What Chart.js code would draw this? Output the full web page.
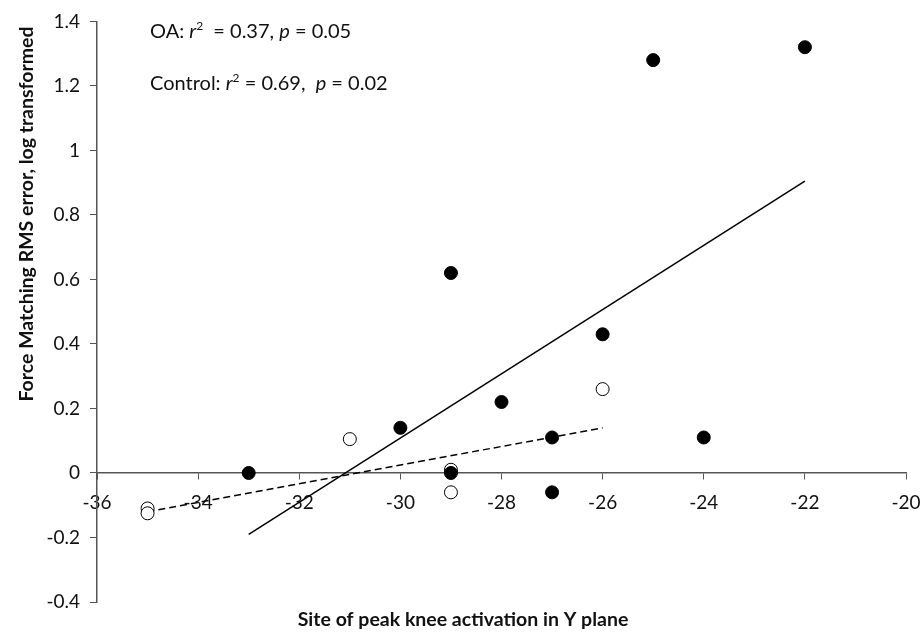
<!DOCTYPE html>
<html>
<head>
<meta charset="utf-8">
<script src="https://cdn.jsdelivr.net/npm/chart.js@4.4.1/dist/chart.umd.min.js"></script>
<style>
  html, body { margin: 0; padding: 0; background: #fff; }
  #wrap { width: 922px; height: 634px; }
</style>
</head>
<body>
<div id="wrap"><canvas id="chart"></canvas></div>
<script>
// OA group (filled markers)
const oaX = [-33, -30, -29, -29, -28, -27, -27, -26, -25, -24, -22];
const oaY = [0.0, 0.14, 0.62, 0.0, 0.22, 0.11, -0.06, 0.43, 1.28, 0.11, 1.32];
// Control group (open markers)
const controlX = [-35, -35, -31, -29, -29, -26];
const controlY = [-0.11, -0.125, 0.105, 0.01, -0.06, 0.26];
// regression line end points
const oaFitX = [-33, -22];
const oaFitY = [-0.19, 0.905];
const controlFitX = [-35, -26];
const controlFitY = [-0.12, 0.14];
// axes
const xTicks = [-36, -34, -32, -30, -28, -26, -24, -22, -20];
const yTicks = [-0.4, -0.2, 0, 0.2, 0.4, 0.6, 0.8, 1, 1.2, 1.4];
const xTitle = 'Site of peak knee activation in Y plane';
const yTitle = 'Force Matching RMS error, log transformed';
const notes = [
  [['OA: ', 'n'], ['r', 'i'], ['2', 's'], ['  = 0.37, ', 'n'], ['p', 'i'], [' = 0.05', 'n']],
  [['Control: ', 'n'], ['r', 'i'], ['2', 's'], [' = 0.69,  ', 'n'], ['p', 'i'], [' = 0.02', 'n']]
];

const toPoints = (xs, ys) => xs.map((x, i) => ({ x: x, y: ys[i] }));
const FONT = 'Lato, "Open Sans", sans-serif';
const axisColor = '#555';

// titles and the r/p notes drawn on the canvas
const textPlugin = {
  id: 'texts',
  afterDraw(chart) {
    const ctx = chart.ctx;
    ctx.save();
    ctx.fillStyle = '#111';
    ctx.font = 'bold 19.5px ' + FONT;
    ctx.textAlign = 'center';
    ctx.textBaseline = 'middle';
    ctx.fillText(xTitle, 463, 620);
    ctx.translate(27, 214);
    ctx.rotate(-Math.PI / 2);
    ctx.font = 'bold 19.5px ' + FONT;
    ctx.fillText(yTitle, 0, 0);
    ctx.restore();

    ctx.save();
    ctx.fillStyle = '#111';
    ctx.textAlign = 'left';
    ctx.textBaseline = 'alphabetic';
    const baselines = [38, 90];
    notes.forEach((parts, row) => {
      let x = 150;
      parts.forEach(([txt, kind]) => {
        let y = baselines[row];
        if (kind === 'i') ctx.font = 'italic 20px ' + FONT;
        else if (kind === 's') { ctx.font = '12px ' + FONT; y -= 8; }
        else ctx.font = '20px ' + FONT;
        ctx.fillText(txt, x, y);
        x += ctx.measureText(txt).width;
      });
    });
    ctx.restore();
  }
};

new Chart(document.getElementById('chart'), {
  type: 'scatter',
  data: {
    datasets: [
      {
        label: 'OA',
        data: toPoints(oaX, oaY),
        backgroundColor: '#000',
        borderColor: '#000',
        borderWidth: 1,
        pointRadius: 6.5,
        order: 1
      },
      {
        label: 'Control',
        data: toPoints(controlX, controlY),
        backgroundColor: '#fff',
        borderColor: '#000',
        borderWidth: 1,
        pointRadius: 6.5,
        order: 1
      },
      {
        label: 'OA fit',
        type: 'line',
        data: toPoints(oaFitX, oaFitY),
        borderColor: '#000',
        borderWidth: 1.5,
        pointRadius: 0,
        order: 2
      },
      {
        label: 'Control fit',
        type: 'line',
        data: toPoints(controlFitX, controlFitY),
        borderColor: '#000',
        borderWidth: 1.5,
        borderDash: [7, 4],
        pointRadius: 0,
        order: 2
      }
    ]
  },
  options: {
    responsive: true,
    maintainAspectRatio: false,
    animation: false,
    layout: { padding: { top: 20, right: 16, bottom: 0, left: 0 } },
    plugins: {
      legend: { display: false },
      tooltip: { enabled: false }
    },
    scales: {
      x: {
        type: 'linear',
        position: { y: 0 },
        min: -36,
        max: -20,
        afterBuildTicks: s => { s.ticks = xTicks.map(v => ({ value: v })); },
        afterFit: s => { s.paddingLeft = 0; s.paddingRight = 0; },
        ticks: {
          color: '#111',
          font: { family: FONT, size: 19 },
          padding: 12,
          maxRotation: 0
        },
        grid: { drawOnChartArea: false, tickLength: 6, color: axisColor },
        border: { color: axisColor, width: 1.5 }
      },
      x2: {
        type: 'linear',
        position: 'bottom',
        min: -36,
        max: -20,
        afterFit: s => { s.height = 32; s.paddingLeft = 0; s.paddingRight = 0; },
        ticks: { display: false },
        grid: { display: false },
        border: { display: false }
      },
      y: {
        type: 'linear',
        position: 'left',
        min: -0.4,
        max: 1.4,
        afterFit: s => { s.width = 97; },
        afterBuildTicks: s => { s.ticks = yTicks.map(v => ({ value: v })); },
        ticks: {
          color: '#111',
          font: { family: FONT, size: 19 },
          padding: 10,
          callback: v => String(Number(v.toFixed(1)))
        },
        grid: { drawOnChartArea: false, tickLength: 7, color: axisColor },
        border: { color: axisColor, width: 1.5 }
      }
    }
  },
  plugins: [textPlugin]
});
</script>
</body>
</html>
